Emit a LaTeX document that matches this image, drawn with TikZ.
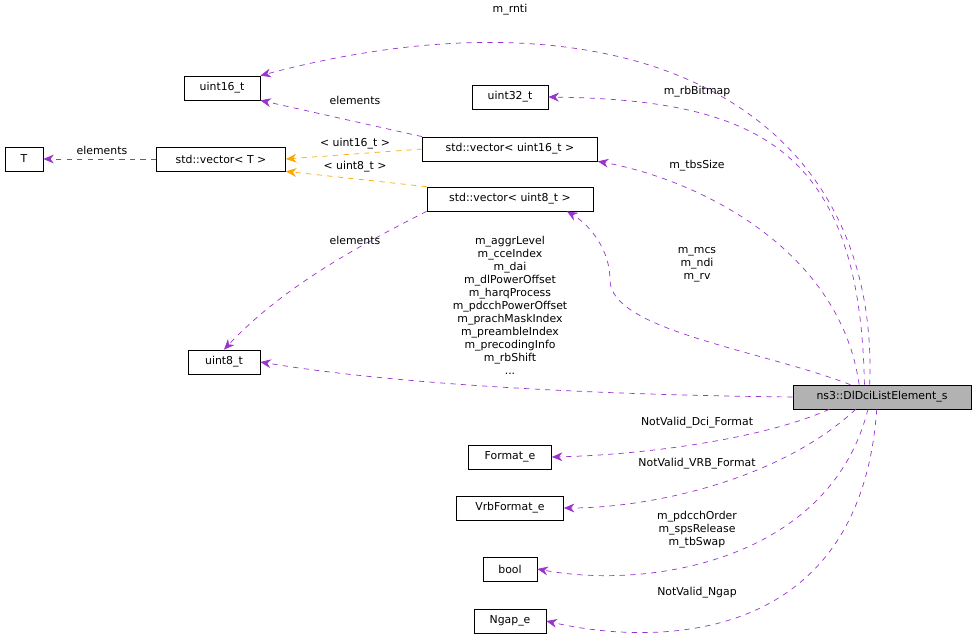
\documentclass[tikz,border=0pt]{standalone}
\usepackage{fontspec}
\setmainfont{DejaVu Sans}
\usetikzlibrary{arrows.meta}
\definecolor{umpurple}{RGB}{154,50,205}
\definecolor{umorange}{RGB}{255,165,0}
\tikzset{
	box/.style={draw=black, fill=white, inner sep=0pt, minimum height=0.48cm, font=\fontsize{6.2}{7.4}\selectfont},
	lbl/.style={font=\fontsize{6.2}{7.4}\selectfont, align=center, inner sep=0pt},
	rel/.style={umpurple, dashed, -{Stealth[length=6pt,width=5pt]}},
	tmpl/.style={umorange, dashed, -{Stealth[length=6pt,width=5pt]}}
}

\begin{document}
\begin{tikzpicture}[x=0.02cm, y=-0.02cm]
	\useasboundingbox (0,0) rectangle (977,642);
	
	\node[box, minimum width=0.76cm] (T) at (24,159) {T};
	\node[box, minimum width=2.58cm] (vecT) at (221,159) {std::vector< T >};
	\node[box, minimum width=1.52cm] (u16) at (222,88) {uint16\_t};
	\node[box, minimum width=1.52cm] (u32) at (510,97) {uint32\_t};
	\node[box, minimum width=3.5cm] (vec16) at (510,149) {std::vector< uint16\_t >};
	\node[box, minimum width=3.32cm] (vec8) at (510,199) {std::vector< uint8\_t >};
	\node[box, minimum width=1.44cm] (u8) at (224,362) {uint8\_t};
	\node[box, minimum width=3.56cm, fill=black!30] (dci) at (882,397) {ns3::DlDciListElement\_s};
	\node[box, minimum width=1.66cm] (fmt) at (510,457) {Format\_e};
	\node[box, minimum width=2.14cm] (vrb) at (510,508) {VrbFormat\_e};
	\node[box, minimum width=1.08cm] (bool) at (510,569) {bool};
	\node[box, minimum width=1.44cm] (ngap) at (510,621) {Ngap\_e};
	
	% templates and elements
	\draw[tmpl] (vec16.west) -- (vecT.east);
	\draw[tmpl] (vec8.north west) -- (vecT.south east);
	\draw[rel] (vec16.north west) -- (u16.south east);
	\draw[rel] (vecT.west) -- (T.east);
	\draw[rel] (vec8.south west) .. controls (350,250) and (280,290) .. (u8.north);
	
	\node[lbl] (l1) at (355,144) {< uint16\_t >};
	\node[lbl] (l2) at (355,167) {< uint8\_t >};
	\node[lbl] (l3) at (355,100) {elements};
	\node[lbl] (l4) at (102,150) {elements};
	\node[lbl] (l5) at (355,240) {elements};
	
	% members of the struct
	\draw[rel] ([xshift=-7pt]dci.north) .. controls (880,100) and (620,-20) .. (u16.north east);
	\draw[rel] ([xshift=-10pt]dci.north) .. controls (860,150) and (760,100) .. (u32.east);
	\draw[rel] ([xshift=-13pt]dci.north) .. controls (840,250) and (700,180) .. (vec16.south east);
	\draw[rel] ([xshift=-18pt]dci.north) .. controls (760,350) and (610,330) .. (610,280) .. controls (610,250) and (590,225) .. ([xshift=-15pt]vec8.south east);
	\draw[rel] (dci.west) .. controls (600,395) and (400,385) .. (u8.east);
	\draw[rel] ([xshift=-30pt]dci.south) .. controls (760,440) and (640,455) .. (fmt.east);
	\draw[rel] ([xshift=-15pt]dci.south) .. controls (780,480) and (650,508) .. (vrb.east);
	\draw[rel] ([xshift=-8pt]dci.south) .. controls (830,560) and (650,590) .. (bool.east);
	\draw[rel] ([xshift=-3pt]dci.south) .. controls (860,650) and (650,645) .. (ngap.east);
	
	\node[lbl] (m1) at (510,10) {m\_rnti};
	\node[lbl] (m2) at (697,92) {m\_rbBitmap};
	\node[lbl] (m3) at (697,166) {m\_tbsSize};
	\node[lbl] (m4) at (697,265) {m\_mcs\\m\_ndi\\m\_rv};
	\node[lbl] (m5) at (510,305) {m\_aggrLevel\\m\_cceIndex\\m\_dai\\m\_dlPowerOffset\\m\_harqProcess\\m\_pdcchPowerOffset\\m\_prachMaskIndex\\m\_preambleIndex\\m\_precodingInfo\\m\_rbShift\\...};
	\node[lbl] (m6) at (697,423) {NotValid\_Dci\_Format};
	\node[lbl] (m7) at (697,464) {NotValid\_VRB\_Format};
	\node[lbl] (m8) at (697,530) {m\_pdcchOrder\\m\_spsRelease\\m\_tbSwap};
	\node[lbl] (m9) at (697,593) {NotValid\_Ngap};
	
\end{tikzpicture}
\end{document}
